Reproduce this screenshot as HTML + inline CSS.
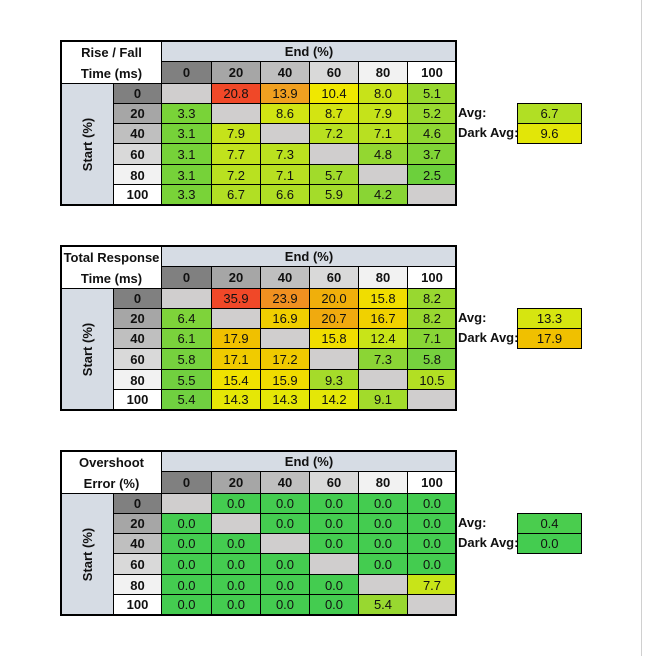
<!DOCTYPE html>
<html><head><meta charset="utf-8">
<style>
body{margin:0;width:646px;height:656px;background:#fff;position:relative;overflow:hidden;font-family:"Liberation Sans",sans-serif;}
.c{position:absolute;box-sizing:border-box;border:1px solid #000;display:flex;align-items:center;justify-content:center;font-size:13px;color:#111;}
.b{font-weight:bold;}
.lbl{position:absolute;font-weight:bold;font-size:13px;color:#111;}
.frame{position:absolute;left:641px;top:0;width:1px;height:656px;background:#d0d0d0;}
</style></head>
<body>
<div class="frame"></div>
<div id="root"></div>
<script>
const levels = ["0","20","40","60","80","100"];
const riseFall = [
 [null,20.8,13.9,10.4,8.0,5.1],
 [3.3,null,8.6,8.7,7.9,5.2],
 [3.1,7.9,null,7.2,7.1,4.6],
 [3.1,7.7,7.3,null,4.8,3.7],
 [3.1,7.2,7.1,5.7,null,2.5],
 [3.3,6.7,6.6,5.9,4.2,null]];
const riseFallAvg = [6.7, 9.6];
const totalResp = [
 [null,35.9,23.9,20.0,15.8,8.2],
 [6.4,null,16.9,20.7,16.7,8.2],
 [6.1,17.9,null,15.8,12.4,7.1],
 [5.8,17.1,17.2,null,7.3,5.8],
 [5.5,15.4,15.9,9.3,null,10.5],
 [5.4,14.3,14.3,14.2,9.1,null]];
const totalRespAvg = [13.3, 17.9];
const overshoot = [
 [null,0.0,0.0,0.0,0.0,0.0],
 [0.0,null,0.0,0.0,0.0,0.0],
 [0.0,0.0,null,0.0,0.0,0.0],
 [0.0,0.0,0.0,null,0.0,0.0],
 [0.0,0.0,0.0,0.0,null,7.7],
 [0.0,0.0,0.0,0.0,5.4,null]];
const overshootAvg = [0.4, 0.0];

const scale1=[[2.5,[108,208,60]],[5,[150,216,48]],[7.5,[190,226,30]],[10.4,[240,232,0]],[13.9,[240,160,32]],[20.8,[240,72,40]]];
const scale2=[[5.4,[112,208,64]],[8.2,[152,216,48]],[12.4,[200,228,24]],[15,[240,232,0]],[17.9,[240,192,0]],[23.9,[240,144,32]],[35.9,[240,72,40]]];
const scale3=[[0,[68,204,80]],[5.4,[152,216,48]],[7.7,[200,228,24]]];
function colorOf(v,s){
 if(v<=s[0][0])return 'rgb('+s[0][1].join(',')+')';
 for(let i=1;i<s.length;i++){if(v<=s[i][0]){const a=s[i-1],b=s[i],t=(v-a[0])/(b[0]-a[0]);
  return 'rgb('+a[1].map((x,k)=>Math.round(x+(b[1][k]-x)*t)).join(',')+')';}}
 return 'rgb('+s[s.length-1][1].join(',')+')';
}
const hdrBg=["#808080","#a6a6a6","#bfbfbf","#d9d9d9","#f2f2f2","#ffffff"];
const colX=[161,211,260,309,358,407,456];
const root=document.getElementById('root');
function cell(x,y,w,h,txt,cls,bg,name){
 const d=document.createElement('div');d.className='c '+(cls||'');
 d.style.left=x+'px';d.style.top=y+'px';d.style.width=(w+1)+'px';d.style.height=(h+1)+'px';
 if(bg)d.style.background=bg;d.textContent=txt;
 
 
 root.appendChild(d);return d;
}
function table(T,title1,title2,data,avg,sc,key){
 const t=cell(61,T,100,42,'','b','#fff',key+'-title');
 t.innerHTML=title1+'<br>'+title2;t.style.lineHeight='21px';t.style.textAlign='center';
 cell(161,T,295,20,'End (%)','b','#d6dce4',key+'-end-header');
 const s=cell(61,T+42,52,121,'','b','#d6dce4',key+'-start-header');
 s.innerHTML='<span style="transform:rotate(-90deg);white-space:nowrap;display:block">Start (%)</span>';
 for(let j=0;j<6;j++){
  const c=cell(colX[j],T+20,colX[j+1]-colX[j],22,levels[j],'b',hdrBg[j],key+'-col-'+levels[j]);
 }
 for(let i=0;i<6;i++){
  const y=T+42+i*20+(i>=4?1:0);
  const h=(i==3||i==4)?21:20;
  cell(113,y,48,h,levels[i],'b',hdrBg[i],key+'-row-'+levels[i]);
  for(let j=0;j<6;j++){
   const v=data[i][j];
   cell(colX[j],y,colX[j+1]-colX[j],h,v==null?'':v.toFixed(1),'',v==null?'#d0cece':colorOf(v,sc),key+'-cell-'+i+'-'+j);
  }
 }
 const o=document.createElement('div');o.style.cssText='position:absolute;left:60px;top:'+(T-1)+'px;width:397px;height:166px;border:2px solid #000;box-sizing:border-box;pointer-events:none';
 
 
 root.appendChild(o);
 const labels=['Avg:','Dark Avg:'];
 for(let k=0;k<2;k++){
  const l=document.createElement('div');l.className='lbl';l.textContent=labels[k];
  l.style.left='458px';l.style.top=(T+64+k*20)+'px';
  
  
  root.appendChild(l);
  cell(517,T+62+k*20,64,20,avg[k].toFixed(1),'',colorOf(avg[k],sc),key+(k?'-dark-avg-value':'-avg-value'));
 }
}
table(41,'Rise / Fall','Time (ms)',riseFall,riseFallAvg,scale1,'rise-fall');
table(246,'Total Response','Time (ms)',totalResp,totalRespAvg,scale2,'total-response');
table(451,'Overshoot','Error (%)',overshoot,overshootAvg,scale3,'overshoot');
</script>
</body></html>
